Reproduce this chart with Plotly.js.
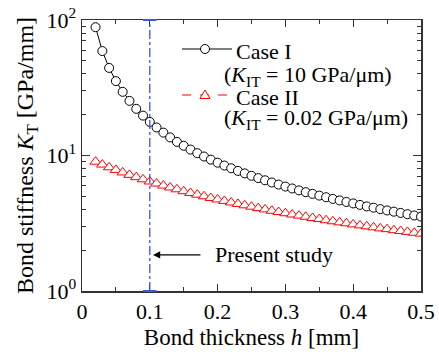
<!DOCTYPE html>
<html>
<head>
<meta charset="utf-8">
<script src="https://cdn.plot.ly/plotly-3.0.1.min.js"></script>
<style>html,body{margin:0;padding:0;background:#fff;}</style>
</head>
<body>
<div id="chart" style="width:439px;height:352px;"></div>
<script>
// Bond thickness h [mm]
const thickness = [0.02,0.03,0.04,0.05,0.06,0.07,0.08,0.09,0.10,0.11,0.12,0.13,0.14,0.15,0.16,0.17,0.18,0.19,0.20,0.21,0.22,0.23,0.24,0.25,0.26,0.27,0.28,0.29,0.30,0.31,0.32,0.33,0.34,0.35,0.36,0.37,0.38,0.39,0.40,0.41,0.42,0.43,0.44,0.45,0.46,0.47,0.48,0.49,0.50];
// Case I (K_IT = 10 GPa/um)
const caseI = [88.5,59.0,44.3,35.4,29.5,25.3,22.1,19.7,17.7,16.1,14.75,13.6,12.6,11.8,11.06,10.41,9.83,9.32,8.85,8.43,8.05,7.70,7.38,7.08,6.81,6.56,6.32,6.10,5.90,5.71,5.53,5.36,5.21,5.06,4.92,4.78,4.66,4.54,4.43,4.32,4.21,4.12,4.02,3.93,3.85,3.77,3.69,3.61,3.54];
// Case II (K_IT = 0.02 GPa/um)
const caseII = [9.00,8.57,8.18,7.83,7.50,7.20,6.92,6.67,6.43,6.21,6.00,5.81,5.63,5.45,5.29,5.14,5.00,4.86,4.74,4.62,4.50,4.39,4.29,4.19,4.09,4.00,3.91,3.83,3.75,3.67,3.60,3.53,3.46,3.40,3.33,3.27,3.21,3.16,3.10,3.05,3.00,2.95,2.90,2.86,2.81,2.77,2.73,2.69,2.65];
const xTickVals = [0,0.1,0.2,0.3,0.4,0.5];
const xTickText = ['0','0.1','0.2','0.3','0.4','0.5'];
const yTickVals = [1,10,100];
const yTickText = ['10<sup>0</sup>','10<sup>1</sup>','10<sup>2</sup>'];
const presentStudy = 0.1;

const FONT = '"Liberation Serif", "Times New Roman", serif';

const traces = [
  {x: thickness, y: caseI, type:'scatter', mode:'lines+markers', name:'Case I',
   line:{color:'#000', width:1},
   marker:{symbol:'circle', size:9, color:'#fff', line:{color:'#000', width:1}}},
  {x: thickness, y: caseII, type:'scatter', mode:'lines+markers', name:'Case II',
   line:{color:'#ff0000', width:1, dash:'dash'},
   marker:{symbol:'triangle-up', size:10, color:'#fff', line:{color:'#ff0000', width:1}}}
];

function px2x(p){ return (p-82)/339; }
function px2y(p){ return (291-p)/271; }

const layout = {
  width:439, height:352,
  margin:{l:82, r:18, t:20, b:61},
  paper_bgcolor:'#fff', plot_bgcolor:'#fff',
  showlegend:false,
  font:{family:FONT, size:22, color:'#000'},
  xaxis:{
    range:[0,0.5], tickmode:'array', tickvals:xTickVals, ticktext:xTickText,
    ticks:'inside', ticklen:7, tickwidth:1, tickcolor:'#333',
    showline:true, linecolor:'#333', linewidth:1.5, mirror:'allticks',
    showgrid:false, zeroline:false,
    tickfont:{family:FONT, size:22, color:'#000'},
    minor:{ticks:'inside', ticklen:4, tickwidth:1, tickcolor:'#333', tickmode:'array', tickvals:[0.05,0.15,0.25,0.35,0.45]},
    title:{text:'Bond thickness <i>h</i> [mm]', font:{family:FONT, size:23, color:'#000'}, standoff:6}
  },
  yaxis:{
    type:'log', range:[0,2], tickmode:'array', tickvals:yTickVals, ticktext:yTickText,
    ticks:'inside', ticklen:8, tickwidth:1, tickcolor:'#333',
    showline:true, linecolor:'#333', linewidth:1.5, mirror:'allticks',
    showgrid:false, zeroline:false,
    tickfont:{family:FONT, size:22, color:'#000'},
    minor:{ticks:'inside', ticklen:4, tickwidth:1, tickcolor:'#333', tickmode:'array',
           tickvals:[2,3,4,5,6,7,8,9,20,30,40,50,60,70,80,90]},
    title:{text:'Bond stiffness <i>K</i><sub>T</sub> [GPa/mm]', font:{family:FONT, size:24, color:'#000'}, standoff:6}
  },
  shapes:[
    {type:'line', xref:'x', yref:'paper', x0:presentStudy, x1:presentStudy, y0:0, y1:1,
     line:{color:'#3a55e8', width:1.3, dash:'dashdot'}},
    {type:'line', xref:'x', yref:'paper', x0:presentStudy-0.01, x1:presentStudy+0.01, y0:1, y1:1,
     line:{color:'#3a55e8', width:2}},
    {type:'line', xref:'x', yref:'paper', x0:presentStudy-0.01, x1:presentStudy+0.01, y0:0, y1:0,
     line:{color:'#3a55e8', width:2}},
    // legend samples
    {type:'line', xref:'paper', yref:'paper', x0:px2x(182), x1:px2x(232), y0:px2y(49), y1:px2y(49),
     line:{color:'#000', width:1}},
    {type:'circle', xref:'paper', yref:'paper', xsizemode:'pixel', ysizemode:'pixel',
     xanchor:px2x(205), yanchor:px2y(49), x0:-4.5, x1:4.5, y0:-4.5, y1:4.5,
     fillcolor:'#fff', line:{color:'#000', width:1}},
    {type:'line', xref:'paper', yref:'paper', x0:px2x(182), x1:px2x(229), y0:px2y(95), y1:px2y(95),
     line:{color:'#ff0000', width:1, dash:'dash'}},
    {type:'path', xref:'paper', yref:'paper', xsizemode:'pixel', ysizemode:'pixel',
     xanchor:px2x(205), yanchor:px2y(95), path:'M-5,-3.5L5,-3.5L0,5Z',
     fillcolor:'#fff', line:{color:'#ff0000', width:1}}
  ],
  annotations:[
    {xref:'paper', yref:'paper', x:px2x(234), y:px2y(51), xanchor:'left', yanchor:'middle', showarrow:false,
     text:'Case I', font:{family:FONT, size:22, color:'#000'}},
    {xref:'paper', yref:'paper', x:px2x(222), y:px2y(76), xanchor:'left', yanchor:'middle', showarrow:false,
     text:'(<i>K</i><sub>IT</sub> = 10 GPa/μm)', font:{family:FONT, size:22, color:'#000'}},
    {xref:'paper', yref:'paper', x:px2x(234), y:px2y(97), xanchor:'left', yanchor:'middle', showarrow:false,
     text:'Case II', font:{family:FONT, size:22, color:'#000'}},
    {xref:'paper', yref:'paper', x:px2x(222), y:px2y(119), xanchor:'left', yanchor:'middle', showarrow:false,
     text:'(<i>K</i><sub>IT</sub> = 0.02 GPa/μm)', font:{family:FONT, size:22, color:'#000'}},
    {xref:'x', yref:'y', x:0.1932, y:0.266, xanchor:'left', yanchor:'middle', showarrow:false,
     text:'Present study', font:{family:FONT, size:22, color:'#000'}},
    {xref:'x', yref:'y', x:0.1047, y:0.266, axref:'x', ayref:'y', ax:0.1814, ay:0.266,
     text:' ', showarrow:true, arrowhead:2, arrowsize:1.2, arrowwidth:1.2, arrowcolor:'#000'}
  ]
};

Plotly.newPlot('chart', traces, layout, {staticPlot:true, displayModeBar:false});
</script>
</body>
</html>
